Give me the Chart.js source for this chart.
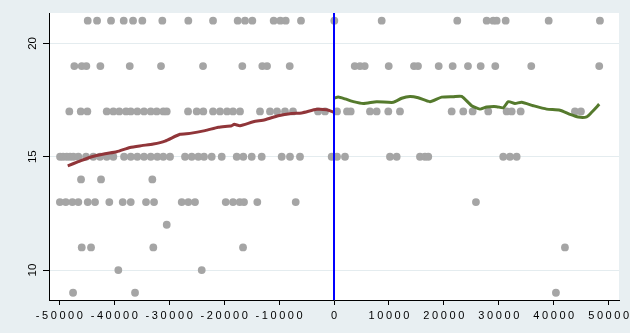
<!DOCTYPE html>
<html>
<head>
<meta charset="utf-8">
<script src="https://cdn.jsdelivr.net/npm/chart.js@4.4.1/dist/chart.umd.min.js"></script>
<style>
  html, body { margin: 0; padding: 0; background: #e8eff2; }
  #wrap { width: 630px; height: 333px; }
</style>
</head>
<body>
<div id="wrap"><canvas id="c" width="630" height="333"></canvas></div>
<script>
// Observed values, one array per outcome level (x = running variable)
const x21 = [-44830, -43130, -40590, -38280, -36580, -34890, -31250, -26520, -22020, -17530, -16200, -14870, -10980, -9770, -8790, -6010, 60, 8680, 22440, 27790, 28990, 29610, 31250, 39080, 48410];
const x19 = [-47270, -45920, -45080, -42530, -37180, -31490, -23840, -16690, -13050, -12190, -8060, 3770, 4730, 5590, 9960, 14560, 15290, 19060, 21600, 24390, 26700, 29360, 35910, 48280];
const x17 = [-48180, -46100, -44900, -41370, -40170, -39080, -37860, -37000, -35800, -34580, -33360, -32270, -31070, -30450, -26570, -24990, -23790, -22020, -20750, -19470, -18380, -17110, -13470, -11650, -10370, -8920, -7460, -2910, -1640, 550, 2370, 3040, 6550, 7770, 9880, 12010, 21420, 23530, 25240, 28080, 31430, 32340, 33980, 43860, 44950];
const x15 = [-49870, -49320, -48650, -48050, -47450, -46540, -45140, -43810, -42590, -41370, -40170, -38220, -37000, -35800, -34580, -33360, -32160, -31070, -29850, -27120, -25900, -24700, -23660, -22260, -20440, -17710, -16510, -14980, -13160, -9520, -8010, -6190, -420, 550, 2000, 10190, 11410, 15650, 16560, 17160, 30810, 32030, 33250];
const x14 = [-46050, -42410, -33070];
const x13 = [-49900, -48830, -47630, -46540, -44830, -43500, -40900, -38460, -37000, -34220, -32760, -27720, -26520, -25300, -19710, -18380, -17170, -16380, -13960, -6970, 25840];
const x12 = [-30450];
const x11 = [-45920, -44230, -32890, -16560, 42040];
const x10 = [-39260, -24080];
const x9  = [-47500, -36220, 40400];

const dotRows = [[21, x21], [19, x19], [17, x17], [15, x15], [14, x14], [13, x13], [12, x12], [11, x11], [10, x10], [9, x9]];

// Smoothed fits on each side of the cutoff
const leftX  = [-48470, -46540, -44100, -41680, -39550, -37130, -35000, -32890, -30760, -28030, -26210, -23480, -21050, -18620, -18150, -17110, -14690, -12560, -10140, -7700, -5880, -3150, -1330, 0];
const leftY  = [14.60, 14.78, 15.00, 15.13, 15.22, 15.41, 15.49, 15.56, 15.69, 15.99, 16.03, 16.15, 16.30, 16.37, 16.43, 16.37, 16.54, 16.63, 16.81, 16.91, 16.93, 17.09, 17.07, 16.96];
const rightX = [0, 790, 2000, 3520, 5340, 7770, 10800, 12320, 13830, 15340, 17470, 19600, 21710, 23240, 25060, 26570, 27790, 29610, 30810, 31730, 32940, 34160, 36270, 38710, 41130, 42950, 44460, 45990, 46900, 48280];
const rightY = [17.58, 17.63, 17.55, 17.43, 17.35, 17.43, 17.40, 17.58, 17.66, 17.60, 17.43, 17.63, 17.65, 17.66, 17.25, 17.10, 17.19, 17.21, 17.16, 17.43, 17.35, 17.40, 17.25, 17.10, 17.05, 16.87, 16.75, 16.76, 16.96, 17.32];

const cutoff = 0;
const xTicks = [-50000, -40000, -30000, -20000, -10000, 0, 10000, 20000, 30000, 40000, 50000];
const yTicks = [10, 15, 20];
const xRange = [-51880, 51880];
const yRange = [8.68, 21.34];

const zip = (xs, ys) => xs.map((x, i) => ({ x, y: ys[i] }));
const dots = dotRows.flatMap(([y, xs]) => xs.map(x => ({ x, y })));

// Background: bluish graph region, white plot region
const regions = {
  id: 'regions',
  beforeDraw(chart) {
    const { ctx, chartArea: a, width, height } = chart;
    ctx.save();
    ctx.fillStyle = '#e8eff2';
    ctx.fillRect(0, 0, width, height);
    ctx.fillStyle = '#ffffff';
    ctx.fillRect(a.left, a.top, a.right - a.left, a.bottom - a.top);
    ctx.restore();
  }
};

// Wide letter spacing for the x-axis labels
const spacedLabels = {
  id: 'spacedLabels',
  beforeDraw(chart) {
    const s = chart.scales.x;
    if (s.__spaced) return;
    const draw = s.drawLabels;
    s.drawLabels = function (area) {
      const ctx = this.ctx;
      ctx.save();
      ctx.letterSpacing = '2.6px';
      ctx.translate(1.3, 0);
      draw.call(this, area);
      ctx.restore();
    };
    s.__spaced = true;
  }
};

const font = { family: "'Liberation Sans', Arial, sans-serif", size: 11 };

new Chart(document.getElementById('c'), {
  type: 'scatter',
  data: {
    datasets: [
      {
        data: [{ x: cutoff, y: yRange[0] }, { x: cutoff, y: yRange[1] }],
        showLine: true, borderColor: '#0000ff', borderWidth: 2,
        pointRadius: 0, tension: 0
      },
      {
        data: zip(leftX, leftY),
        showLine: true, borderColor: '#903539', borderWidth: 3,
        pointRadius: 0, tension: 0.2, borderJoinStyle: 'round'
      },
      {
        data: zip(rightX, rightY),
        showLine: true, borderColor: '#557a2d', borderWidth: 3,
        pointRadius: 0, tension: 0.2, borderJoinStyle: 'round'
      },
      {
        data: dots,
        pointRadius: 3.9, pointBackgroundColor: '#a5a5a5',
        pointBorderWidth: 0, borderColor: 'rgba(0,0,0,0)'
      }
    ]
  },
  options: {
    responsive: false,
    devicePixelRatio: 1,
    animation: false,
    events: [],
    layout: { padding: { top: 13, right: 11, left: 0, bottom: 0 } },
    plugins: { legend: { display: false }, tooltip: { enabled: false } },
    scales: {
      x: {
        type: 'linear',
        min: xRange[0], max: xRange[1],
        afterBuildTicks: s => { s.ticks = xTicks.map(v => ({ value: v })); },
        afterFit: s => { s.height = 33; },
        grid: { drawOnChartArea: false, tickLength: 5, tickColor: '#000', tickWidth: 1 },
        border: { color: '#000', width: 1 },
        ticks: { font, color: '#000', padding: 4, maxRotation: 0, autoSkip: false, callback: v => String(v) }
      },
      y: {
        type: 'linear',
        min: yRange[0], max: yRange[1],
        afterBuildTicks: s => { s.ticks = yTicks.map(v => ({ value: v })); },
        afterFit: s => { s.width = 49; },
        grid: { color: '#e4ecef', lineWidth: 1, tickLength: 6, tickColor: '#000', tickWidth: 1 },
        border: { color: '#000', width: 1 },
        ticks: {
          font: { family: font.family, size: 11.5 }, color: '#000',
          padding: 3.5, minRotation: 90, maxRotation: 90, crossAlign: 'center',
          autoSkip: false, callback: v => String(v)
        }
      }
    }
  },
  plugins: [regions, spacedLabels]
});
</script>
</body>
</html>
